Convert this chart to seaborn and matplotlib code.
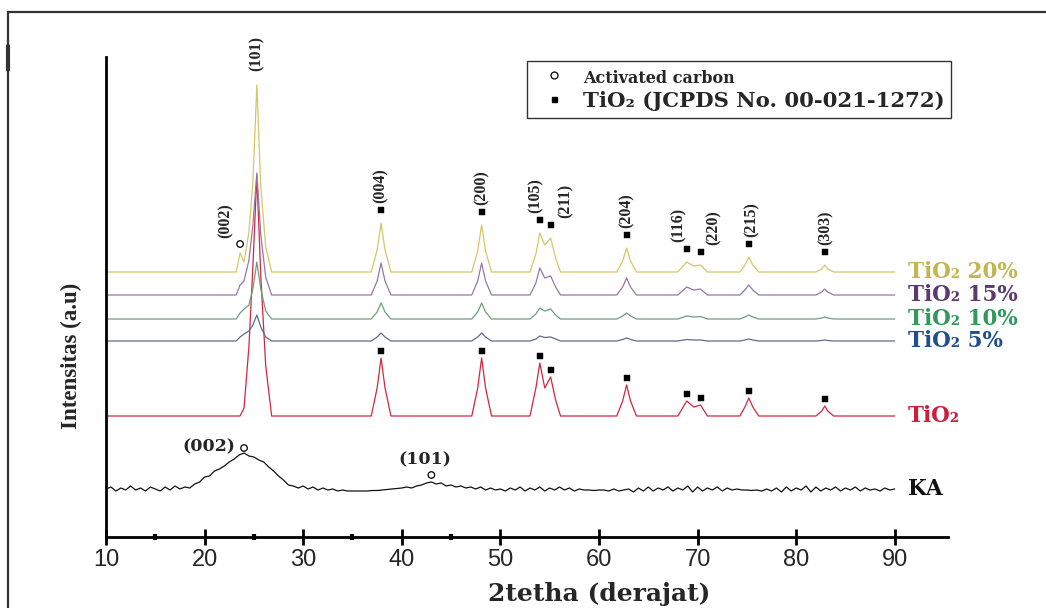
import numpy as np
import pandas as pd
import matplotlib
matplotlib.use("Agg")
import matplotlib.pyplot as plt
import seaborn as sns
from matplotlib.lines import Line2D

# ---------------- data ----------------
# vertex grid of the TiO2-family patterns (2theta, degrees)
TWO_THETA_V = [10, 23.2, 23.6, 24.0, 24.5, 24.9, 25.3, 25.7, 26.2, 26.8,
               36.9, 37.5, 37.9, 38.3, 38.9,
               47.1, 47.7, 48.1, 48.5, 49.1,
               53.0, 53.6, 54.0, 54.5, 55.1, 55.6, 56.1,
               61.8, 62.4, 62.8, 63.2, 63.8,
               68.0, 68.9, 69.6, 70.3, 71.0,
               74.3, 74.8, 75.2, 75.6, 76.2,
               82.0, 82.6, 82.9, 83.2, 83.8,
               90]
# intensities above each pattern's own baseline (a.u.)
I_TIO2 = [0, 0, 0, 8, 70, 150, 241, 140, 50, 0,
          0, 28, 58, 28, 0,
          0, 28, 58, 28, 0,
          0, 28, 53, 28, 39, 16, 0,
          0, 15, 31, 15, 0,
          0, 15, 9, 11, 0,
          0, 9, 18, 9, 0,
          0, 5, 10, 5, 0,
          0]
I_TIO2_5 = [0, 0, 4, 7, 10, 16, 26, 14, 4, 0,
            0, 4, 8, 4, 0,
            0, 4, 8, 4, 0,
            0, 2, 5, 3.5, 4, 2, 0,
            0, 1.5, 3, 1.5, 0,
            0, 1.5, 1, 1, 0,
            0, 1, 2, 1, 0,
            0, 0.5, 1, 0.5, 0,
            0]
I_TIO2_10 = [0, 0, 6, 10, 14, 30, 57, 30, 8, 0,
             0, 7, 16, 7, 0,
             0, 7, 16, 7, 0,
             0, 5, 11, 8, 10, 4, 0,
             0, 3, 6, 3, 0,
             0, 3, 2, 2.5, 0,
             0, 2, 4, 2, 0,
             0, 1, 2, 1, 0,
             0]
I_TIO2_15 = [0, 0, 10, 14, 35, 70, 122, 60, 18, 0,
             0, 14, 32, 14, 0,
             0, 14, 32, 14, 0,
             0, 12, 27, 17, 19, 8, 0,
             0, 8, 17, 8, 0,
             0, 8, 5, 6, 0,
             0, 5, 10, 5, 0,
             0, 3, 6, 3, 0,
             0]
I_TIO2_20 = [0, 0, 19, 10, 40, 90, 187, 85, 25, 0,
             0, 22, 49, 22, 0,
             0, 21, 47, 21, 0,
             0, 18, 39, 27, 34, 14, 0,
             0, 11, 24, 11, 0,
             0, 10, 6, 7, 0,
             0, 7, 15, 7, 0,
             0, 3, 7, 3, 0,
             0]

# activated carbon (KA) pattern, sampled every 0.5 degree from 10 to 90
KA_TWO_THETA = np.arange(10, 90.01, 0.5)
I_KA = [48, 50, 46, 49, 47, 51, 47, 49, 46, 50,
        48, 46, 50, 47, 51, 48, 50, 49, 53, 55,
        60, 61, 66, 68, 71, 75, 78, 82, 84, 81,
        80, 77, 75, 70, 66, 61, 57, 52, 51, 49,
        51, 48, 50, 47, 49, 47, 48, 46, 47, 46,
        46, 46, 46, 46, 46.5, 46.5, 47, 47.5, 48, 48.5,
        49, 50, 49, 51, 52, 54, 55, 53, 54, 51,
        52, 50, 51, 49, 50, 48, 50, 47, 49, 47,
        48, 46, 49, 47, 50, 46, 49, 47, 50, 46,
        49, 47, 50, 47, 49, 46, 48, 47, 47, 46.5,
        47, 47, 46, 48, 46, 47, 48, 45, 49, 46,
        50, 46, 49, 47, 50, 46, 49, 47, 51, 45,
        50, 46, 49, 47, 50, 46, 49, 47, 48, 47,
        47, 46.5, 47, 46, 48, 46, 49, 45, 50, 46,
        49, 47, 51, 45, 50, 46, 49, 47, 50, 46,
        49, 47, 50, 46, 49, 47, 48, 46, 49, 47,
        48]
assert len(I_KA) == len(KA_TWO_THETA)

SERIES = ["KA", "TiO₂", "TiO₂ 5%", "TiO₂ 10%", "TiO₂ 15%", "TiO₂ 20%"]
SERIES_VALUES = {"TiO₂": I_TIO2, "TiO₂ 5%": I_TIO2_5, "TiO₂ 10%": I_TIO2_10,
                 "TiO₂ 15%": I_TIO2_15, "TiO₂ 20%": I_TIO2_20}

HKL_LABELS = ["(004)", "(200)", "(105)", "(211)", "(204)", "(116)", "(220)", "(215)", "(303)"]
HKL_POS = [37.9, 48.1, 54.0, 55.1, 62.8, 68.9, 70.3, 75.2, 82.9]
C_PEAK_COMPOSITE = 23.6      # carbon (002) on the 20% pattern
TIO2_MAIN = 25.3             # anatase (101)
KA_PEAKS = [24.0, 43.0]
KA_LABELS = ["(002)", "(101)"]

LEGEND_LABELS = ["Activated carbon", "TiO₂ (JCPDS No. 00-021-1272)"]
X_LABEL = "2tetha (derajat)"
Y_LABEL = "Intensitas (a.u)"

# ---------------- styling / layout ----------------
OFFSET = {"KA": 0, "TiO₂": 121, "TiO₂ 5%": 196, "TiO₂ 10%": 218,
          "TiO₂ 15%": 242, "TiO₂ 20%": 265}
LINE_COLORS = {"KA": "#111111", "TiO₂": "#d0283f", "TiO₂ 5%": "#5d6e86",
               "TiO₂ 10%": "#6f9c80", "TiO₂ 15%": "#9478a6", "TiO₂ 20%": "#d2c866"}
TEXT_COLORS = {"KA": "#111111", "TiO₂": "#cc1f3a", "TiO₂ 5%": "#1f4f8f",
               "TiO₂ 10%": "#2f9a5c", "TiO₂ 15%": "#5c3a70", "TiO₂ 20%": "#c4b64e"}
HKL_DX_PX = [0, 0, -4, 15, 0, -8, 13, 3, 1]
PX = 0.72   # points per pixel at dpi 100
SERIF = ["Liberation Serif", "DejaVu Serif"]
WIDE_SERIF = ["DejaVu Serif"]
SANS = ["Liberation Sans", "DejaVu Sans"]

sns.set_theme(style="white")
plt.rcParams["font.family"] = SERIF

fig = plt.figure(figsize=(10.46, 6.08), dpi=100)
ax = fig.add_axes([106 / 1046, 71 / 608, 842 / 1046, 480 / 608])

rows = []
for name in SERIES[1:]:
    for x, v in zip(TWO_THETA_V, SERIES_VALUES[name]):
        rows.append((name, x, v + OFFSET[name]))
for x, v in zip(KA_TWO_THETA, I_KA):
    rows.append(("KA", x, v + OFFSET["KA"]))
df = pd.DataFrame(rows, columns=["series", "two_theta", "intensity"])

sns.lineplot(data=df, x="two_theta", y="intensity", hue="series",
             hue_order=SERIES, palette=LINE_COLORS, estimator=None,
             sort=False, legend=False, linewidth=0.9, ax=ax)

def val_at(series, x):
    return SERIES_VALUES[series][TWO_THETA_V.index(x)] + OFFSET[series]

bold = dict(fontweight="bold", family=SERIF)
wbold = dict(fontweight="bold", family=WIDE_SERIF)

# TiO2 square markers on 20% and pure TiO2 patterns
sq_rows = []
for x in HKL_POS:
    sq_rows.append((x, val_at("TiO₂ 20%", x) + 13))
    sq_rows.append((x, val_at("TiO₂", x) + 7))
sq = pd.DataFrame(sq_rows, columns=["x", "y"])
sns.scatterplot(data=sq, x="x", y="y", marker="s", s=14, color="black",
                edgecolor="black", linewidth=0.3, ax=ax, zorder=5)

for lab, x, dx in zip(HKL_LABELS, HKL_POS, HKL_DX_PX):
    ax.annotate(lab, xy=(x, val_at("TiO₂ 20%", x) + 13), xytext=(dx * PX, 7 * PX),
                textcoords="offset points", rotation=90, ha="center", va="bottom",
                fontsize=11.5, **bold)

# (101) label of the main anatase peak
ax.annotate("(101)", xy=(TIO2_MAIN, val_at("TiO₂ 20%", TIO2_MAIN)), xytext=(0, 14 * PX),
            textcoords="offset points", rotation=90, ha="center", va="bottom",
            fontsize=11.5, **bold)

# carbon circles
circ_rows = [(C_PEAK_COMPOSITE, val_at("TiO₂ 20%", C_PEAK_COMPOSITE) + 9)]
ka_idx = [int(round((p - 10) / 0.5)) for p in KA_PEAKS]
circ_rows.append((KA_PEAKS[0], I_KA[ka_idx[0]] + 5))
circ_rows.append((KA_PEAKS[1], I_KA[ka_idx[1]] + 7))
circ = pd.DataFrame(circ_rows, columns=["x", "y"])
sns.scatterplot(data=circ, x="x", y="y", marker="o", s=22, facecolor="none",
                edgecolor="black", linewidth=0.9, ax=ax, zorder=5)

ax.annotate("(002)", xy=circ_rows[0], xytext=(-14 * PX, 6 * PX), textcoords="offset points",
            rotation=90, ha="center", va="bottom", fontsize=11.5, **bold)
ax.annotate(KA_LABELS[0], xy=circ_rows[1], xytext=(-9 * PX, 1 * PX), textcoords="offset points",
            ha="right", va="center", fontsize=12.5, **wbold)
ax.annotate(KA_LABELS[1], xy=circ_rows[2], xytext=(-7 * PX, 7 * PX), textcoords="offset points",
            ha="center", va="bottom", fontsize=12.5, **wbold)

# series names on the right
for name in SERIES:
    base = OFFSET[name] + (I_KA[-1] if name == "KA" else 0)
    ax.text(91.3, base, name, color=TEXT_COLORS[name], ha="left", va="center",
            fontsize=15.5, clip_on=False, **wbold)

# axes styling
ax.set_xlim(10, 95.4)
ax.set_ylim(0, 480)
ax.set_yticks([])
ax.set_xticks(range(10, 91, 10))
ax.set_xticks([15, 25, 35, 45], minor=True)
ax.tick_params(axis="x", which="major", direction="inout", length=11, width=2,
               color="black", labelsize=17, pad=3, bottom=True)
ax.tick_params(axis="x", which="minor", direction="inout", length=4, width=3,
               color="black", bottom=True)
for t in ax.get_xticklabels():
    t.set_family(SANS)
for side in ["top", "right"]:
    ax.spines[side].set_visible(False)
for side in ["left", "bottom"]:
    ax.spines[side].set_visible(True)
    ax.spines[side].set_color("black")
    ax.spines[side].set_linewidth(2)
ax.set_facecolor("white")

ax.set_xlabel(X_LABEL, fontsize=18, **wbold)
ax.xaxis.set_label_coords(0.5855, -0.094)
ax.set_ylabel(Y_LABEL, fontsize=16.5, **bold)
ax.yaxis.set_label_coords(-0.029, 0.377)

# legend
handles = [Line2D([], [], marker="o", ls="", mfc="none", mec="black", ms=5, mew=0.9),
           Line2D([], [], marker="s", ls="", color="black", ms=3.6)]
leg = ax.legend(handles, LEGEND_LABELS, loc="upper left",
                bbox_to_anchor=(527 / 1046, 1 - 61 / 608), bbox_transform=fig.transFigure,
                frameon=True, fancybox=False, edgecolor="#333333", framealpha=1,
                handlelength=1.9, handletextpad=0.4, borderpad=0.32, labelspacing=0.2,
                borderaxespad=0, prop={"weight": "bold", "family": WIDE_SERIF, "size": 15.3})
leg.get_frame().set_linewidth(1.0)
leg.get_texts()[0].set_fontsize(11.5)

# outer frame of the original picture
fig.add_artist(Line2D([8 / 1046, 1], [1 - 12 / 608] * 2, transform=fig.transFigure,
                      color="#333333", lw=1.6))
fig.add_artist(Line2D([8 / 1046] * 2, [0, 1 - 12 / 608], transform=fig.transFigure,
                      color="#333333", lw=1.6))
fig.add_artist(Line2D([8 / 1046] * 2, [1 - 70 / 608, 1 - 46 / 608], transform=fig.transFigure,
                      color="#333333", lw=3))

fig.savefig("out.png", dpi=100, facecolor="white")
